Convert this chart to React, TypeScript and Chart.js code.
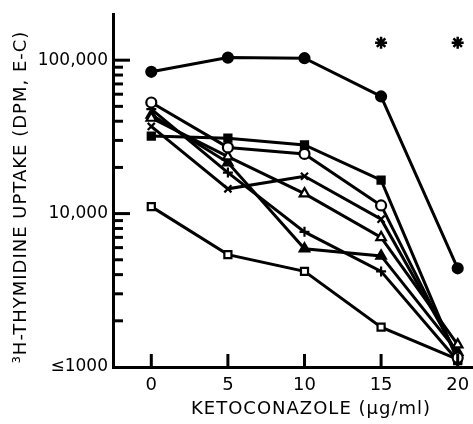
import React, { useEffect, useRef } from 'react';
import { Chart, registerables } from 'chart.js';

Chart.register(...registerables);

// ---- data ----
const doses = [0, 5, 10, 15, 20];
const filledCircle = [84000, 104000, 103000, 58000, 4400];
const openCircle = [53000, 27000, 24500, 11300, 1150];
const filledSquare = [32000, 31000, 28000, 16500, 1100];
const openSquare = [11100, 5400, 4200, 1820, 1120];
const crossX = [37000, 14500, 17500, 9200, 1200];
const openTriangle = [42000, 23500, 13500, 7000, 1400];
const plusMark = [48000, 18500, 7600, 4200, 1100];
const filledTriangle = [44000, 21500, 5900, 5300, 1250];
const starDoses = [15, 20];
const starValue = 130000;

const xTickValues = [0, 5, 10, 15, 20];
const yMajorTicks = [1000, 10000, 100000];
const yMinorTicks = [2000, 3000, 4000, 5000, 6000, 7000, 8000, 9000, 20000, 30000, 40000, 50000, 60000, 70000, 80000, 90000];
const yTickLabels: Record<number, string> = { 1000: '≤1000', 10000: '10,000', 100000: '100,000' };
const xTitle = 'KETOCONAZOLE (μg/ml)';
const yTitle = '³H-THYMIDINE UPTAKE (DPM, E-C)';

const FONT = '"DejaVu Sans", "Liberation Sans", sans-serif';

const pts = (vals: number[]) => vals.map((v, i) => ({ x: doses[i], y: v }));

const inwardTicks = {
  id: 'inwardTicks',
  afterDraw(chart: any) {
    const { ctx, chartArea, scales } = chart;
    const x = scales.x;
    const y = scales.y;
    ctx.save();
    ctx.strokeStyle = '#000';
    ctx.lineWidth = 3;
    const line = (x1: number, y1: number, x2: number, y2: number) => {
      ctx.beginPath();
      ctx.moveTo(x1, y1);
      ctx.lineTo(x2, y2);
      ctx.stroke();
    };
    yMajorTicks.forEach((v) => {
      if (v === 1000) return;
      const py = y.getPixelForValue(v);
      line(chartArea.left, py, chartArea.left + 17, py);
    });
    yMinorTicks.forEach((v) => {
      const py = y.getPixelForValue(v);
      line(chartArea.left, py, chartArea.left + 10, py);
    });
    xTickValues.forEach((v) => {
      const px = x.getPixelForValue(v);
      line(px, chartArea.bottom, px, chartArea.bottom - 13);
    });
    // titles
    ctx.fillStyle = '#000';
    ctx.textAlign = 'center';
    ctx.textBaseline = 'middle';
    ctx.font = `18px ${FONT}`;
    (ctx as any).letterSpacing = '1px';
    ctx.fillText(xTitle, 311, 409);
    ctx.translate(21, 197);
    ctx.rotate(-Math.PI / 2);
    ctx.fillText(yTitle, 0, 0);
    ctx.restore();
  },
};

export default function App() {
  const ref = useRef<HTMLCanvasElement>(null);
  useEffect(() => {
    if (!ref.current) return;
    const lineDs = (data: number[], style: any, filled: boolean, radius = 4.5) => ({
      data: pts(data),
      borderColor: '#000',
      borderWidth: 3,
      pointStyle: style,
      pointRadius: radius,
      pointBorderWidth: 2.2,
      pointBorderColor: '#000',
      pointBackgroundColor: filled ? '#000' : '#fff',
      showLine: true,
      fill: false,
      tension: 0,
      clip: false,
    });
    const chart = new Chart(ref.current, {
      type: 'line',
      data: {
        datasets: [
          lineDs(filledCircle, 'circle', true, 5),
          lineDs(openCircle, 'circle', false, 5),
          lineDs(filledSquare, 'rect', true, 5),
          lineDs(openSquare, 'rect', false, 5),
          lineDs(crossX, 'crossRot', false, 5),
          lineDs(openTriangle, 'triangle', false, 5.5),
          lineDs(plusMark, 'cross', false, 5),
          lineDs(filledTriangle, 'triangle', true, 5.5),
          {
            data: starDoses.map((d) => ({ x: d, y: starValue })),
            showLine: false,
            pointStyle: 'star',
            pointRadius: 6,
            pointBorderWidth: 2.5,
            pointBorderColor: '#000',
            borderColor: '#000',
            clip: false,
          },
        ] as any,
      },
      options: {
        animation: false,
        responsive: false,
        layout: { autoPadding: false, padding: { top: 14, right: 0, bottom: 0, left: 0 } },
        plugins: { legend: { display: false }, tooltip: { enabled: false } },
        scales: {
          x: {
            type: 'linear',
            min: -2.5,
            max: 21,
            grid: { display: false, drawTicks: false },
            border: { display: true, color: '#000', width: 3 },
            ticks: { color: '#000', font: { family: FONT, size: 18 }, padding: 8 },
            afterBuildTicks: (s: any) => {
              s.ticks = xTickValues.map((v) => ({ value: v }));
            },
            afterFit: (s: any) => {
              s.height = 57;
              s.paddingLeft = 0;
              s.paddingRight = 0;
            },
          },
          y: {
            type: 'logarithmic',
            min: 1000,
            max: 200000,
            grid: { display: false, drawTicks: false },
            border: { display: true, color: '#000', width: 3 },
            ticks: {
              color: '#000',
              font: { family: FONT, size: 17 },
              padding: 5,
              callback: (v: any) => yTickLabels[Number(v)] ?? '',
            },
            afterBuildTicks: (s: any) => {
              s.ticks = yMajorTicks.map((v) => ({ value: v }));
            },
            afterFit: (s: any) => {
              s.width = 113;
              s.paddingTop = 0;
              s.paddingBottom = 0;
            },
          },
        },
      } as any,
      plugins: [inwardTicks],
    });
    return () => chart.destroy();
  }, []);
  return (
    <div style={{ position: 'absolute', left: 0, top: 0, width: 473, height: 424, background: '#fff' }}>
      <canvas ref={ref} width={473} height={424} />
    </div>
  );
}
